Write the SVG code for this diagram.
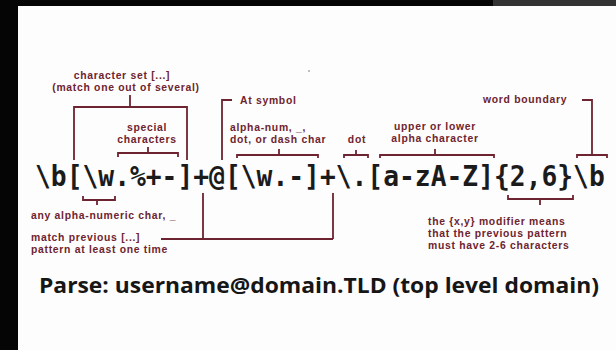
<svg xmlns="http://www.w3.org/2000/svg" width="616" height="350" viewBox="0 0 616 350">
<style>
.lbl{font-family:"Liberation Sans",Arial,sans-serif;font-weight:bold;font-size:10.4px;letter-spacing:0.7px;fill:#6e2430}
.c{text-anchor:middle}
.br{fill:none;stroke:#6e2430;stroke-width:1.8}
.rx{font-family:"DejaVu Sans Mono","Liberation Mono",monospace;font-weight:bold;font-size:26.3px;fill:#1b1b1b}
.parse{font-family:"Open Sans","Liberation Sans",sans-serif;font-weight:bold;font-size:21px;fill:#161616}
</style>
<rect x="0" y="0" width="616" height="350" fill="#fdfdfd"/>
<rect x="0" y="0" width="493" height="6" fill="#050505"/>
<rect x="493" y="0" width="123" height="6" fill="#333333"/>
<rect x="0" y="0" width="18" height="350" fill="#050505"/>
<circle cx="309" cy="71" r="1" fill="#aaaaaa"/>
<g id="connectors">
<path class="br" d="M130,95 V107 M74,160 V107 H187 V160"/>
<path class="br" d="M118,157 V153 H178 V157 M148,153 V147"/>
<path class="br" d="M232,100 H222 V160"/>
<path class="br" d="M237,158 V155 H318 V158 M279,155 V149"/>
<path class="br" d="M344,158 V155 H368 V158 M356,155 V150"/>
<path class="br" d="M380,158 V155 H494 V158 M435,155 V149"/>
<path class="br" d="M582,100 H592 V155 M577,158 V155 H607 V158"/>
<path class="br" d="M83,196 V200 H115 V196 M97,200 V205"/>
<path class="br" d="M508,195 V199 H573 V195 M540,199 V205"/>
<path class="br" d="M203,193 V239 M333,193 V239 M161,239 H333"/>
</g>
<g id="regex"><text class="rx" transform="translate(35,186) scale(1,1.065)" x="0" y="0">\b[\w.%+-]+@[\w.-]+\.[a-zA-Z]{2,6}\b</text></g>
<g id="charset"><text class="lbl c"><tspan x="122" y="79">character set [...]</tspan><tspan x="126" y="91">(match one out of several)</tspan></text></g>
<g id="at-symbol"><text class="lbl" x="240" y="104">At symbol</text></g>
<g id="word-boundary"><text class="lbl" x="483" y="103">word boundary</text></g>
<g id="special"><text class="lbl c"><tspan x="147" y="131">special</tspan><tspan x="147" y="143">characters</tspan></text></g>
<g id="alphanum"><text class="lbl"><tspan x="230" y="131">alpha-num, _,</tspan><tspan x="230" y="143">dot, or dash char</tspan></text></g>
<g id="dot"><text class="lbl c" x="357" y="143">dot</text></g>
<g id="upper"><text class="lbl c"><tspan x="435" y="130">upper or lower</tspan><tspan x="435" y="142">alpha character</tspan></text></g>
<g id="anyalpha"><text class="lbl" x="31" y="219">any alpha-numeric char, _</text></g>
<g id="match-prev"><text class="lbl"><tspan x="31" y="241">match previous [...]</tspan><tspan x="31" y="253">pattern at least one time</tspan></text></g>
<g id="modifier"><text class="lbl"><tspan x="428" y="225">the {x,y} modifier means</tspan><tspan x="428" y="237">that the previous pattern</tspan><tspan x="428" y="249">must have 2-6 characters</tspan></text></g>
<g id="parse"><text class="parse" x="39" y="293" textLength="560" lengthAdjust="spacingAndGlyphs">Parse: username@domain.TLD (top level domain)</text></g>
</svg>
